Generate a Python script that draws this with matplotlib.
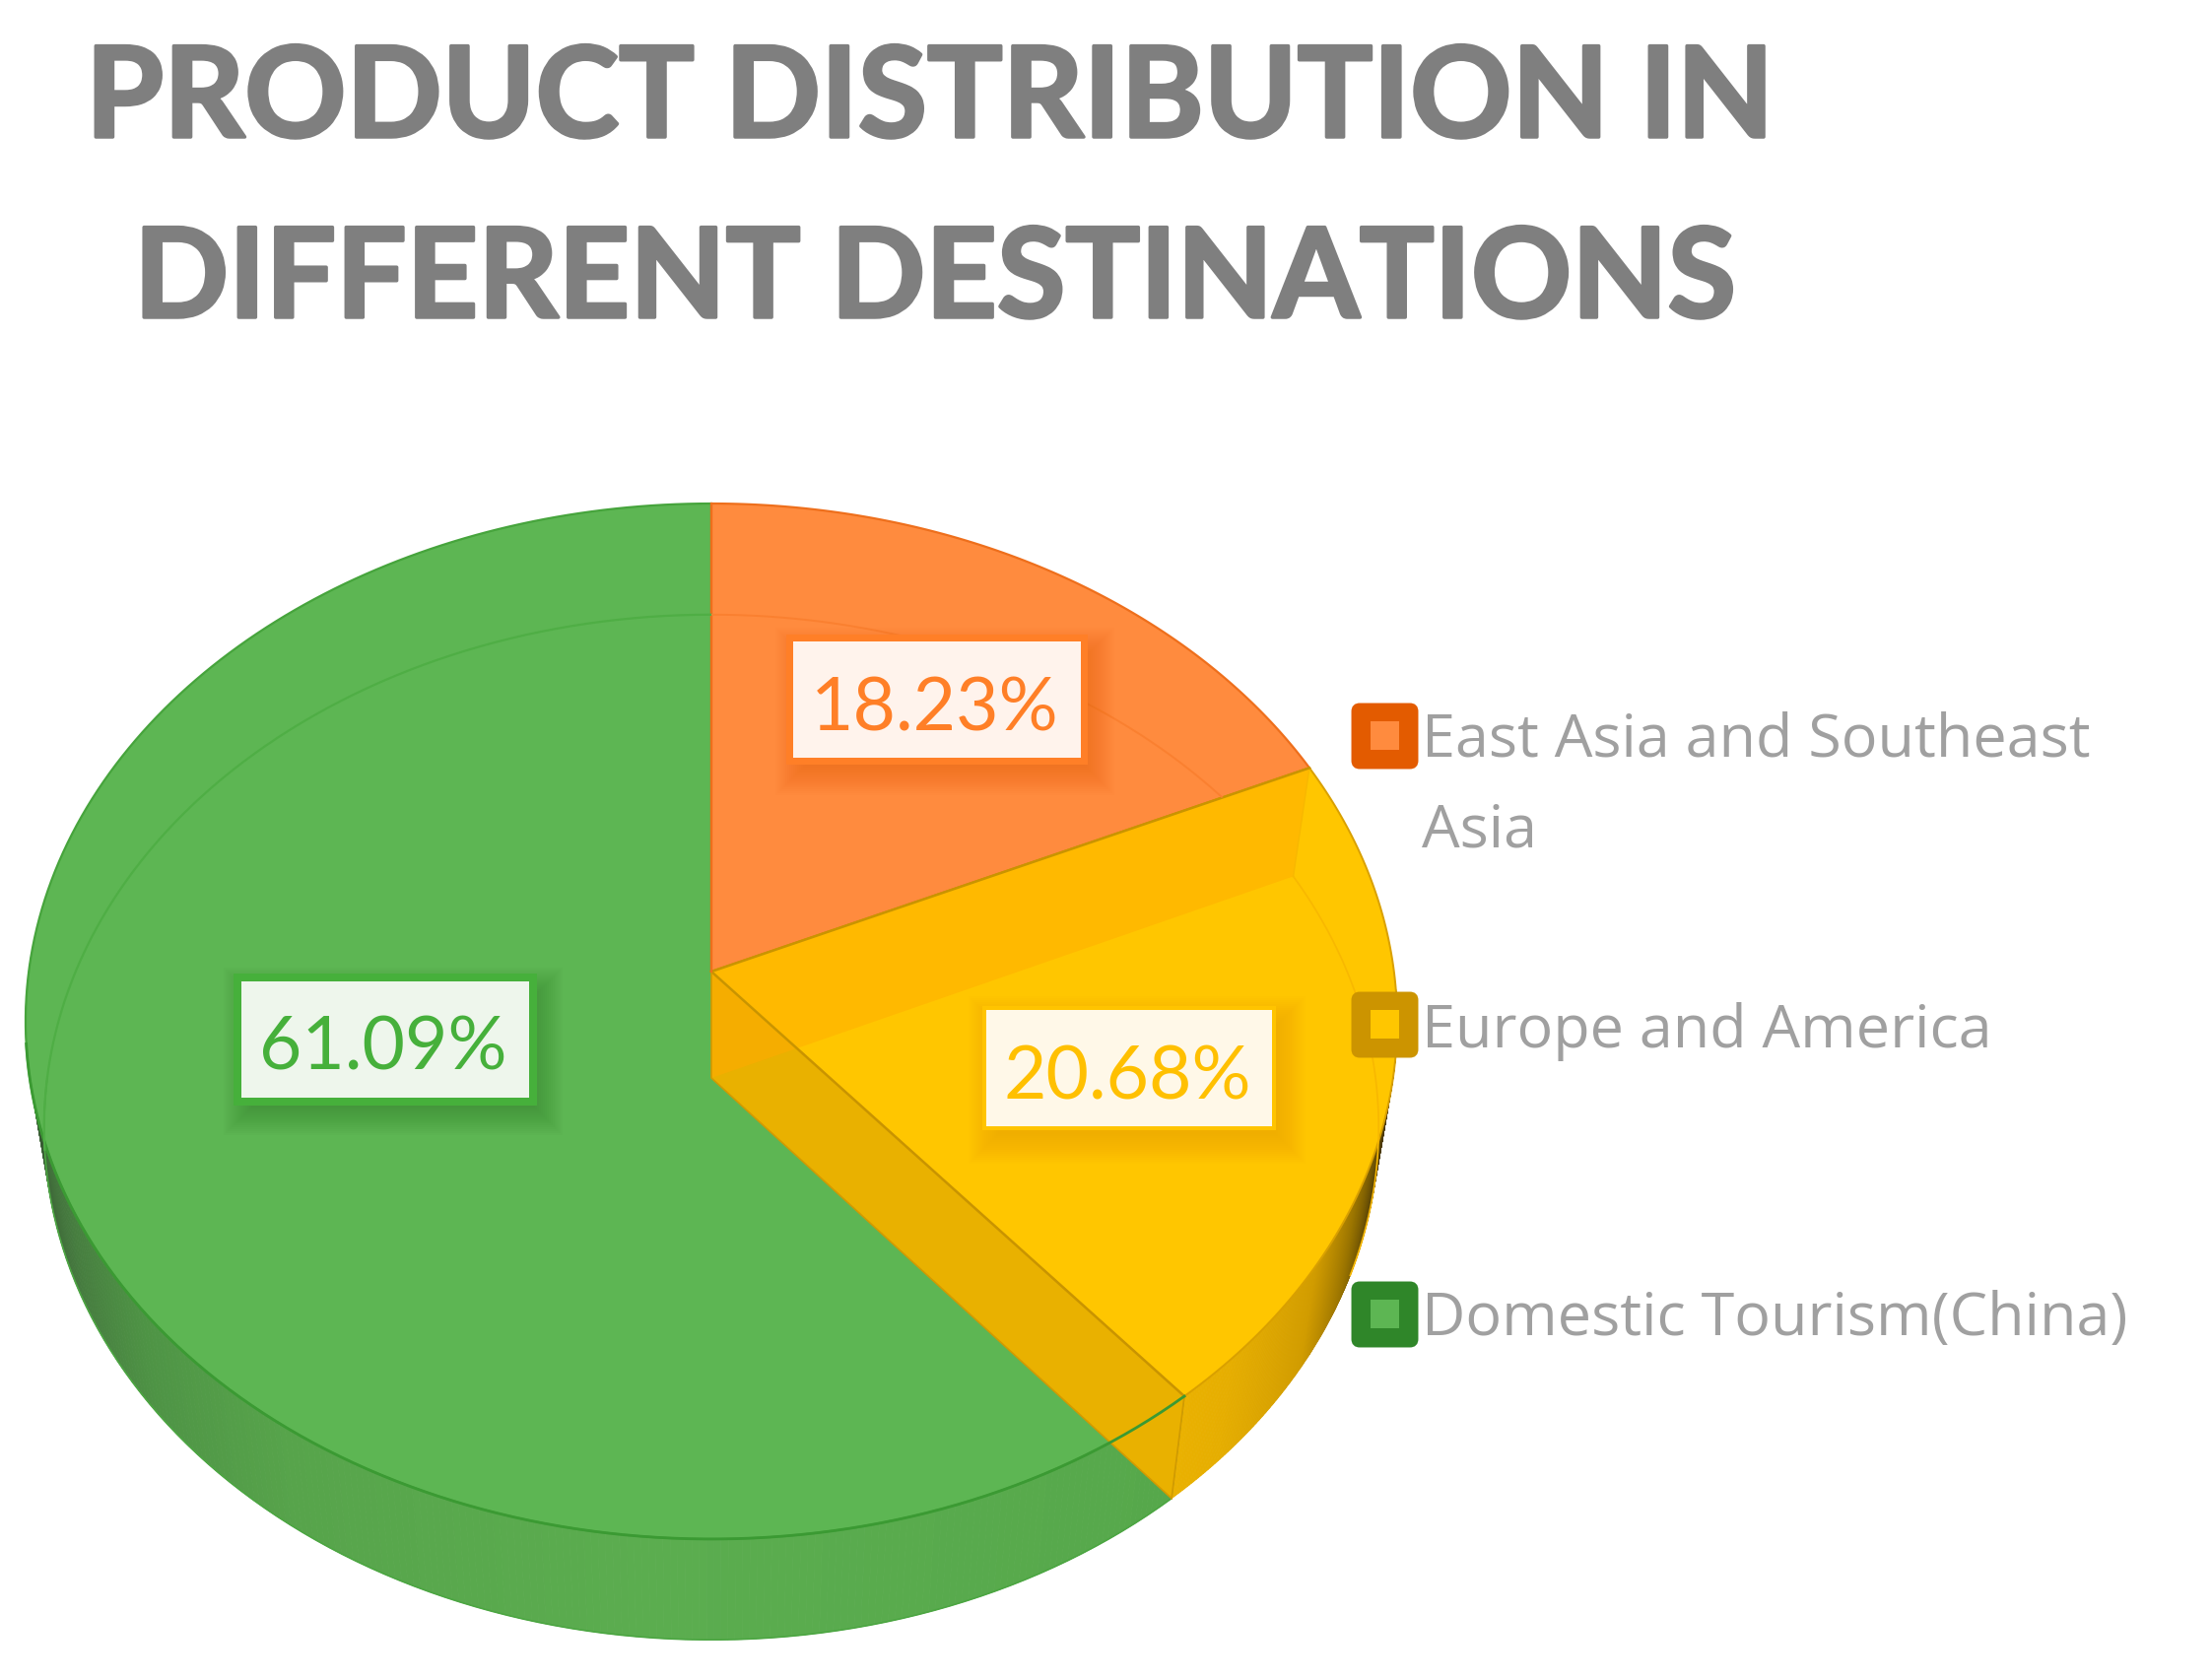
import numpy as np
import matplotlib
matplotlib.use("Agg")
import matplotlib.pyplot as plt
import matplotlib.patheffects as pe
from matplotlib.patches import Polygon, Rectangle, FancyBboxPatch
from matplotlib.collections import PolyCollection
from matplotlib.colors import to_rgb

categories = ["East Asia and Southeast\nAsia", "Europe and America", "Domestic Tourism(China)"]
shares = [18.23, 20.68, 61.09]
share_labels = ["18.23%", "20.68%", "61.09%"]
title_lines = ["PRODUCT DISTRIBUTION IN", "DIFFERENT DESTINATIONS"]

W, H = 2244, 1706
fig = plt.figure(figsize=(W / 100, H / 100), dpi=100)
ax = fig.add_axes([0, 0, 1, 1])
ax.set_xlim(0, W)
ax.set_ylim(H, 0)
ax.axis("off")

ORANGE, YELLOW, GREEN = "#FF8B3E", "#FFC600", "#5DB653"
CX, CY = 722, 987
K, A, B = 0.0961, 520.6, 692.8
SX, SY, DY = 0.973, 0.99, 108


def top(theta):
    t = np.radians(theta)
    u, v = np.sin(t), np.cos(t)
    w = 1 + K * v
    return np.column_stack([CX + B * u / w, CY - A * v / w])


def low(theta):
    p = top(theta)
    return np.column_stack([CX + SX * (p[:, 0] - CX), CY + DY + SY * (p[:, 1] - CY)])


def arc(a, b, n=200):
    return np.linspace(a, b, n)


def mix(stops, x):
    xs = [s[0] for s in stops]
    cs = np.array([to_rgb(s[1]) for s in stops])
    return [np.interp(x, xs, cs[:, i]) for i in range(3)]


edges = np.cumsum([0] + shares) * 3.6
e1, e2 = edges[1], edges[2]
apex = np.array([[CX, CY]])
apex_low = np.array([[CX, CY + DY]])


def side(a, b, stops, z):
    th = np.linspace(a, b, 240)
    polys, cols = [], []
    for i in range(len(th) - 1):
        seg = [th[i], th[i + 1]]
        polys.append(np.vstack([top(seg), low(seg)[::-1]]))
        cols.append(mix(stops, (th[i] + th[i + 1]) / 2))
    ax.add_collection(PolyCollection(polys, facecolors=cols, edgecolors=cols, linewidths=0.6, zorder=z))


# side walls
side(92, e2, [(92, "#2c2208"), (105, "#4a3806"), (115, "#9a7400"), (123, "#D19C00"), (135, "#E6AE00"), (e2, "#EAB100")], 1)
side(e2, 272, [(e2, "#56A84B"), (185, "#5BAD4F"), (215, "#57A44B"), (232, "#4E9345"), (245, "#467C3F"), (258, "#3C6237"), (272, "#2a3f27")], 1)

# top faces
ax.add_patch(Polygon(np.vstack([apex, top(arc(e2, 360))]), fc=GREEN, ec="#46A43C", lw=1.6, zorder=2))
orange_face = Polygon(np.vstack([apex, top(arc(0, e1))]), fc=ORANGE, ec="#EE6F1C", lw=1.6, zorder=2)
ax.add_patch(orange_face)
ax.add_patch(Polygon(np.vstack([apex, top(arc(e1, e2))]), fc=YELLOW, ec="#D9A000", lw=1.4, zorder=2))

# recessed walls of the yellow slice
back = np.vstack([apex, top([e1]), low([e1]), apex_low])
front = np.vstack([apex, top([e2]), low([e2]), apex_low])
ax.add_patch(Polygon(back, fc="#FFB900", ec="none", zorder=3))
ax.plot(*np.vstack([top([e1]), low([e1])]).T, color="#F8B800", lw=1, zorder=3)
fp = Polygon(front, fc="#E9B100", ec="none", zorder=4)
ax.add_patch(fp)
ov = Polygon(back, fc="#F5AD00", ec="none", zorder=5)
ax.add_patch(ov)
ov.set_clip_path(fp)

# outlines
ax.plot(*np.vstack([apex, top([e1])]).T, color="#C99400", lw=1.8, zorder=6)
ax.plot(*np.vstack([apex, top([e2])]).T, color="#C99400", lw=1.8, zorder=6)
ax.plot(*np.vstack([apex, apex_low, low([e2])]).T, color="#D29A00", lw=1.2, zorder=6)
ax.plot(*np.vstack([top([e2]), low([e2])]).T, color="#D29A00", lw=1.2, zorder=6)
ax.plot(*top(arc(e2, 262)).T, color="#3B9A33", lw=2, zorder=6)
ax.plot(*low(arc(e2, 270)).T, color="#4CA642", lw=1.2, zorder=2)
ax.plot([CX, CX], [top([0])[0, 1], CY], color="#EE6F1C", lw=1.6, zorder=6)

# far rim of the lower ellipse, faintly visible through the top
ax.plot(*low(arc(262, 360)).T, color="#4FAE45", lw=1.6, zorder=6)
orange_rim, = ax.plot(*low(arc(0, e1)).T, color="#FA8030", lw=1.4, zorder=6)
orange_rim.set_clip_path(orange_face)
ax.plot(*low(arc(e1, 112)).T, color="#F8B800", lw=1.2, zorder=6)


# data labels
def label(x0, y0, x1, y1, border, fill, text, txt_col, bw, shadow):
    for i in range(16):
        g = 26 - i * 2.0
        ax.add_patch(Rectangle((x0 - g + 8, y0 - g + 12), x1 - x0 + 2 * g, y1 - y0 + 2 * g,
                               fc=shadow, ec="none", alpha=0.035, lw=0, zorder=7))
    if bw:
        ax.add_patch(Rectangle((x0 - bw, y0 - bw), x1 - x0 + 2 * bw, y1 - y0 + 2 * bw,
                               fc=border, ec="none", zorder=8))
    ax.add_patch(Rectangle((x0, y0), x1 - x0, y1 - y0, fc=fill, ec="none", zorder=9))
    ax.text((x0 + x1) / 2 - 2, (y0 + y1) / 2 + 2, text, color=txt_col, ha="center", va="center_baseline",
            family="Lato", fontsize=54, zorder=10)


label(805, 652, 1097, 770, "#FF7F27", "#FFF3EC", share_labels[0], "#FF7F27", 7, "#E8600A")
label(1001, 1026, 1291, 1144, "#FFC400", "#FFF8E8", share_labels[1], "#FFC000", 4, "#F09A00")
label(245, 997, 537, 1115, "#46B03B", "#EEF6EC", share_labels[2], "#46B03B", 8, "#2F7A28")

# legend
legend_tops = [715, 1008, 1302]
legend_edge = ["#E35B00", "#CC9400", "#2F8629"]
legend_fill = [ORANGE, YELLOW, GREEN]
legend_base = [768, 1063, 1355]
for y, ec, fc, base, name in zip(legend_tops, legend_edge, legend_fill, legend_base, categories):
    ax.add_patch(FancyBboxPatch((1375, y + 3), 61, 60, boxstyle="round,pad=0,rounding_size=5",
                                mutation_aspect=1, fc=ec, ec=ec, lw=5, zorder=11))
    ax.add_patch(Rectangle((1391, y + 18), 29, 29, fc=fc, ec="none", zorder=12))
    parts = name.split("\n")
    for j, part in enumerate(parts):
        ax.text(1443, base + j * 92, part, color="#A0A0A0", family="Open Sans", fontsize=44,
                ha="left", va="baseline", zorder=13)

# title
bold = [pe.withStroke(linewidth=2.5, foreground="#7F7F7F")]
ax.text(87, 140, title_lines[0], color="#7F7F7F", family="Lato", weight="bold", fontsize=92,
        ha="left", va="baseline", zorder=13, path_effects=bold)
ax.text(136, 323, title_lines[1], color="#7F7F7F", family="Lato", weight="bold", fontsize=91,
        ha="left", va="baseline", zorder=13, path_effects=bold)

fig.savefig("out.png", dpi=100, facecolor="white")
